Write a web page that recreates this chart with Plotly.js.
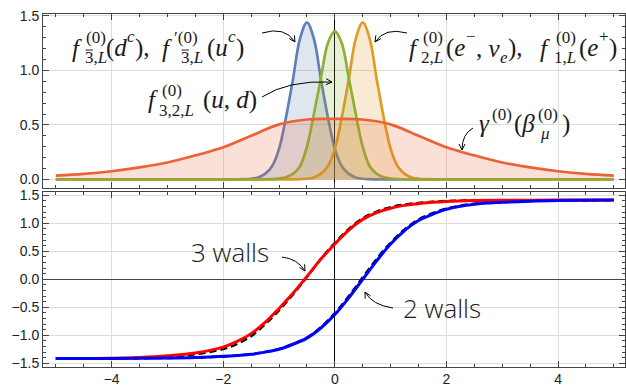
<!DOCTYPE html>
<html>
<head>
<meta charset="utf-8">
<script src="https://cdn.plot.ly/plotly-3.0.1.min.js"></script>
<style>html,body{margin:0;padding:0;background:#fff}</style>
</head>
<body>
<div id="plot" style="width:626px;height:387px"></div>
<script>
// top panel: zero-mode profiles
let xPeak = [-5, -1.75, -1.625, -1.5, -1.375, -1.25, -1.125, -1, -0.875, -0.75, -0.625, -0.5, -0.375, -0.25, -0.125, 0,
  0.125, 0.25, 0.375, 0.5, 0.625, 0.75, 0.875, 1, 1.125, 1.25, 1.375, 1.5, 1.625, 1.75, 5];
let fBlue = [0, 0, 0.002, 0.006, 0.018, 0.05, 0.12, 0.28, 0.57, 0.92, 1.29, 1.44, 1.29, 0.92, 0.57, 0.28,
  0.12, 0.05, 0.018, 0.006, 0.002, 0, 0, 0, 0, 0, 0, 0, 0, 0, 0];
let fGreen = [0, 0, 0, 0, 0, 0.001, 0.003, 0.008, 0.02, 0.05, 0.12, 0.3, 0.6, 0.93, 1.25, 1.36,
  1.25, 0.93, 0.6, 0.3, 0.12, 0.05, 0.02, 0.008, 0.003, 0.001, 0, 0, 0, 0, 0];
let fOrange = [0, 0, 0, 0, 0, 0, 0, 0, 0, 0, 0.002, 0.006, 0.018, 0.05, 0.12, 0.28,
  0.57, 0.92, 1.29, 1.44, 1.29, 0.92, 0.57, 0.28, 0.12, 0.05, 0.018, 0.006, 0.002, 0, 0];

let xGamma = [-5, -4.5, -4, -3.5, -3, -2.5, -2, -1.5, -1, -0.5, 0, 0.5, 1, 1.5, 2, 2.5, 3, 3.5, 4, 4.5, 5];
let gamma = [0.035, 0.05, 0.075, 0.11, 0.155, 0.22, 0.295, 0.40, 0.505, 0.55, 0.555, 0.55, 0.505, 0.40, 0.295, 0.22, 0.155, 0.11, 0.075, 0.05, 0.035];

// bottom panel: wall profiles
let xWall = [-5, -4.5, -4, -3.5, -3, -2.5, -2, -1.75, -1.5, -1.25, -1, -0.75, -0.5, -0.25, 0,
  0.25, 0.5, 0.75, 1, 1.25, 1.5, 1.75, 2, 2.5, 3, 3.5, 4, 4.5, 5];
let wall3 = [-1.414, -1.413, -1.41, -1.395, -1.365, -1.315, -1.21, -1.11, -0.97, -0.77, -0.52, -0.25, 0.05, 0.36, 0.63,
  0.88, 1.07, 1.19, 1.27, 1.32, 1.35, 1.375, 1.39, 1.405, 1.41, 1.413, 1.414, 1.414, 1.414];
let wall3Fit = [-1.414, -1.414, -1.413, -1.405, -1.38, -1.34, -1.245, -1.155, -1.015, -0.805, -0.555, -0.27, 0.04, 0.365, 0.65,
  0.9, 1.09, 1.21, 1.29, 1.335, 1.365, 1.385, 1.398, 1.409, 1.413, 1.414, 1.414, 1.414, 1.414];
let wall2 = [-1.414, -1.414, -1.413, -1.41, -1.405, -1.395, -1.375, -1.36, -1.34, -1.3, -1.25, -1.16, -1.05, -0.87, -0.63,
  -0.33, 0.0, 0.33, 0.63, 0.87, 1.05, 1.16, 1.25, 1.34, 1.375, 1.395, 1.405, 1.41, 1.414];
let wall2Fit = [-1.414, -1.414, -1.413, -1.41, -1.405, -1.398, -1.378, -1.36, -1.337, -1.298, -1.245, -1.155, -1.04, -0.855, -0.605,
  -0.3, 0.035, 0.365, 0.655, 0.89, 1.07, 1.18, 1.265, 1.35, 1.383, 1.4, 1.408, 1.412, 1.414];

function peak(x, y, color, fill) {
  return {x: x, y: y, xaxis: 'x', yaxis: 'y', mode: 'lines', fill: 'tozeroy', fillcolor: fill,
    line: {color: color, width: 2.7, shape: 'spline', smoothing: 1}, hoverinfo: 'skip'};
}
function wall(y, color, dash, w) {
  return {x: xWall, y: y, xaxis: 'x2', yaxis: 'y2', mode: 'lines',
    line: {color: color, width: w, dash: dash, shape: 'spline', smoothing: 1}, hoverinfo: 'skip'};
}

let traces = [
  peak(xPeak, fBlue, '#5E81B5', 'rgba(94,129,181,0.2)'),
  peak(xPeak, fOrange, '#E19C24', 'rgba(225,156,36,0.2)'),
  peak(xPeak, fGreen, '#8FB032', 'rgba(143,176,50,0.2)'),
  peak(xGamma, gamma, '#EB6235', 'rgba(235,98,53,0.2)'),
  wall(wall3Fit, '#000', '7px,4px', 2.4),
  wall(wall2Fit, '#000', '7px,4px', 2.4),
  wall(wall3, '#FF0000', 'solid', 3),
  wall(wall2, '#0000FF', 'solid', 3)
];

// picture pixel -> paper coords
let L = 43, R = 625, T = 14, B = 367;
function px(x) { return (x - L) / (R - L); }
function py(y) { return (B - y) / (B - T); }

let serif = 'Liberation Serif, Times New Roman, serif';
let notes = [];
let shapes = [];
function txt(t, x, y, size, font) {
  notes.push({xref: 'paper', yref: 'paper', x: px(x - 2), y: py(y), xanchor: 'left', yanchor: 'middle',
    text: t, showarrow: false, font: font || {family: serif, size: size, color: '#1a1a1a'}});
}
function bar(x0, x1, y) {
  shapes.push({type: 'line', xref: 'paper', yref: 'paper', x0: px(x0), x1: px(x1), y0: py(y), y1: py(y),
    line: {color: '#1a1a1a', width: 1}});
}

// f(0)_{3bar,L}(d^c), f'(0)_{3bar,L}(u^c)
txt('<i>f</i>', 72, 48, 25);
txt('(0)', 86, 38, 17);
txt('3,<i>L</i>', 85, 58, 17); bar(85.5, 93, 50);
txt('(<i>d</i>', 106, 48, 25);
txt('<i>c</i>', 127, 36, 17);
txt('), ', 135, 48, 25);
txt('<i>f</i>', 162, 48, 25);
txt('\u2032(0)', 174, 38, 17);
txt('3,<i>L</i>', 181, 58, 17); bar(181.5, 189, 50);
txt('(<i>u</i>', 207, 48, 25);
txt('<i>c</i>', 228, 36, 17);
txt(')', 236, 48, 25);
// f(0)_{3,2,L}(u,d)
txt('<i>f</i>', 148, 100, 25);
txt('(0)', 162, 90, 17);
txt('3,2,<i>L</i>', 159, 110, 17);
txt('(<i>u</i>, <i>d</i>)', 203, 100, 25);
// f(0)_{2,L}(e-,nu_e), f(0)_{1,L}(e+)
txt('<i>f</i>', 409, 48, 25);
txt('(0)', 423, 38, 17);
txt('2,<i>L</i>', 421, 58, 17);
txt('(<i>e</i>', 446, 48, 25);
txt('\u2212', 466, 36, 17);
txt(', <i>\u03BD</i>', 476, 48, 25);
txt('<i>e</i>', 500, 58, 17);
txt('), ', 508, 48, 25);
txt('<i>f</i>', 540, 48, 25);
txt('(0)', 556, 38, 17);
txt('1,<i>L</i>', 554, 58, 17);
txt('(<i>e</i>', 579, 48, 25);
txt('+', 599, 36, 17);
txt(')', 609, 48, 25);
// gamma(0)(beta(0)_mu)
txt('<i>\u03B3</i>', 479, 124, 25);
txt('(0)', 492, 114, 17);
txt('(<i>\u03B2</i>', 514, 124, 25);
txt('(0)', 538, 114, 17);
txt('<i>\u03BC</i>', 540, 133, 17);
txt(')', 562, 124, 25);
// bottom labels
let wallFont = {family: 'Open Sans, Liberation Sans, sans-serif', size: 26, weight: 300, color: '#1a1a1a'};
txt('3 walls', 191, 252, 26, wallFont);
txt('2 walls', 403, 308, 26, wallFont);

// curved arrows with open heads, drawn as paths in picture pixels
function arrow(p0, c, p1) {
  let dx = p1[0] - c[0], dy = p1[1] - c[1];
  let n = Math.hypot(dx, dy); dx /= n; dy /= n;
  let a = [p1[0] - 6 * dx - 3 * dy, p1[1] - 6 * dy + 3 * dx];
  let b = [p1[0] - 6 * dx + 3 * dy, p1[1] - 6 * dy - 3 * dx];
  let P = function (p) { return px(p[0]) + ',' + py(p[1]); };
  shapes.push({type: 'path', xref: 'paper', yref: 'paper',
    path: 'M' + P(p0) + ' Q' + P(c) + ' ' + P(p1) + ' M' + P(a) + ' L' + P(p1) + ' L' + P(b),
    line: {color: '#000', width: 1}});
}
arrow([262, 33], [285, 26], [295, 42]);
arrow([262, 97], [288, 80], [332, 82]);
arrow([407, 33], [385, 27], [375, 42]);
arrow([473, 128], [462, 134], [462, 150]);
arrow([282, 257], [298, 259], [305, 271]);
arrow([393, 308], [372, 305], [365, 292]);

let tickFont = {family: 'Liberation Sans, Arial, sans-serif', size: 14, color: '#222'};
function xax(showLabels, anchor) {
  return {domain: [0, 1], range: [-5.23, 5.2], anchor: anchor, tick0: 0, dtick: 2,
    showticklabels: showLabels, tickfont: tickFont, ticklabelstandoff: -1,
    ticks: 'inside', ticklen: 6, tickcolor: '#444',
    showline: true, linecolor: '#444', linewidth: 1, mirror: 'ticks',
    showgrid: true, gridcolor: '#dddddd', gridwidth: 1,
    zeroline: true, zerolinecolor: '#000', zerolinewidth: 1,
    minor: {ticks: 'inside', ticklen: 3, dtick: 0.5, tickcolor: '#444', showgrid: false}};
}
function yax(domain, range, zero) {
  return {domain: domain, range: range, tick0: 0, dtick: 0.5, tickformat: '.1f',
    tickfont: tickFont, ticks: 'inside', ticklen: 6, tickcolor: '#444',
    showline: true, linecolor: '#444', linewidth: 1, mirror: 'ticks',
    showgrid: true, gridcolor: '#dddddd', gridwidth: 1,
    zeroline: zero, zerolinecolor: '#444', zerolinewidth: 1,
    minor: {ticks: 'inside', ticklen: 3, dtick: 0.1, tickcolor: '#444', showgrid: false}};
}

let layout = {
  width: 626, height: 387,
  margin: {l: L, r: 626 - R, t: T, b: 387 - B, pad: 0},
  paper_bgcolor: '#fff', plot_bgcolor: '#fff',
  showlegend: false,
  xaxis: xax(false, 'y'),
  yaxis: yax([0.508, 1], [-0.076, 1.518], false),
  xaxis2: xax(true, 'y2'),
  yaxis2: yax([0, 0.495], [-1.566, 1.554], true),
  annotations: notes,
  shapes: shapes
};

Plotly.newPlot('plot', traces, layout, {displayModeBar: false, staticPlot: true});
</script>
</body>
</html>
